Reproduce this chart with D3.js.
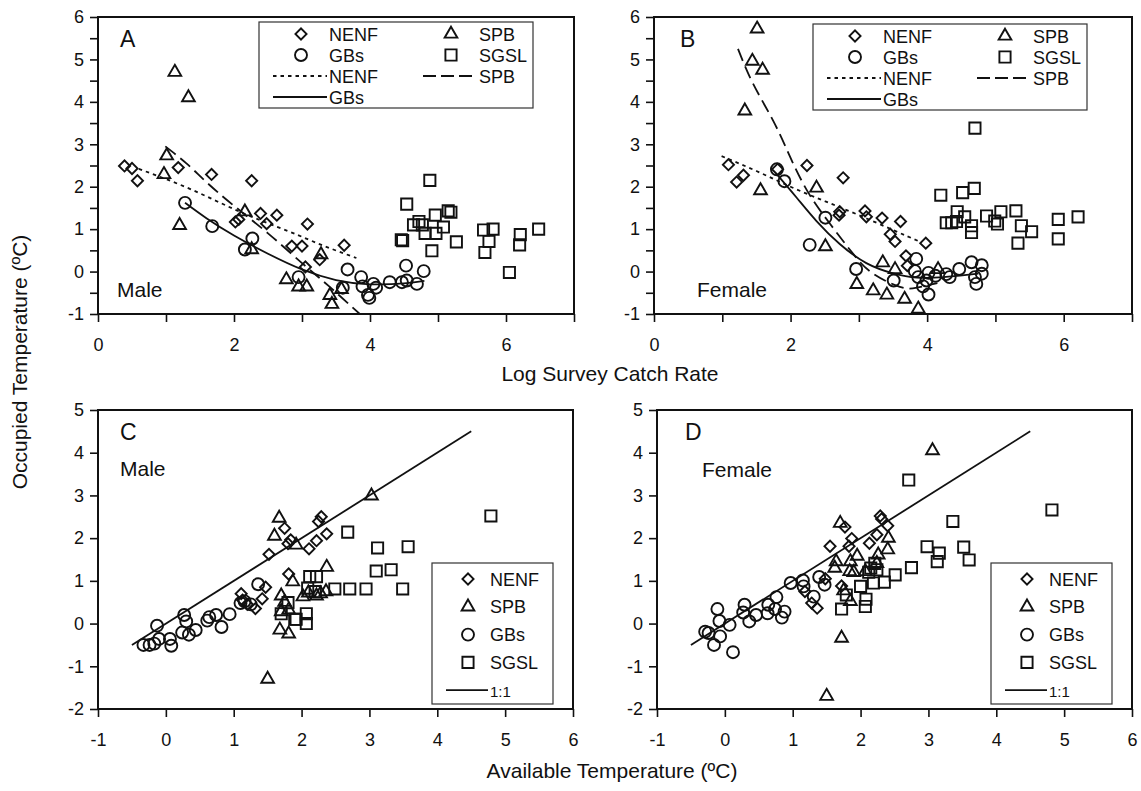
<!DOCTYPE html>
<html>
<head>
<meta charset="utf-8">
<script src="https://cdn.jsdelivr.net/npm/d3@7"></script>
<style>
  body { margin: 0; background: #fff; }
  text { font-family: "Liberation Sans", Arial, Helvetica, sans-serif; fill: #111; }
</style>
</head>
<body>
<div id="chart"></div>
<script>
// ---- data ----
// Panel A: male, occupied temp vs log survey catch rate
var aNENF = [[0.39,2.49],[0.50,2.43],[0.58,2.14],[1.18,2.45],[1.67,2.29],[2.26,2.14],[2.02,1.17],[2.07,1.23],
  [2.39,1.37],[2.48,1.13],[2.63,1.33],[3.08,1.12],[2.85,0.60],[3.00,0.60],[3.05,0.11],[3.26,0.28],[3.62,0.62]];
var aSPB = [[1.13,4.70],[1.33,4.10],[1.01,2.73],[0.97,2.29],[1.20,1.09],[2.16,1.41],[2.26,0.52],[2.77,-0.19],
  [2.95,-0.36],[3.07,-0.36],[3.28,0.40],[3.41,-0.56],[3.44,-0.77],[3.58,-0.42]];
var aGBs = [[1.28,1.62],[1.68,1.07],[2.27,0.78],[2.16,0.52],[2.95,-0.13],[3.60,-0.38],[3.67,0.05],[3.87,-0.13],
  [3.89,-0.35],[3.99,-0.62],[3.97,-0.55],[4.05,-0.29],[4.09,-0.38],[4.29,-0.25],[4.47,-0.25],[4.53,0.14],
  [4.54,-0.21],[4.69,-0.29],[4.79,0.01]];
var aSGSL = [[4.48,0.73],[4.46,0.75],[4.54,1.59],[4.64,1.10],[4.72,1.18],[4.77,1.10],[4.81,0.90],[4.88,2.15],
  [4.91,0.49],[4.96,1.33],[4.97,0.90],[5.08,1.05],[5.15,1.43],[5.19,1.40],[5.27,0.70],[5.67,0.98],[5.81,1.00],
  [5.75,0.71],[5.69,0.45],[6.05,-0.02],[6.21,0.87],[6.20,0.63],[6.48,1.00]];
var aFitNENF = [[0.6,2.42],[1.35,1.95],[2.1,1.40],[2.8,0.95],[3.3,0.62],[3.8,0.32]];
var aFitSPB = [[0.99,2.95],[1.3,2.55],[1.6,2.1],[2.0,1.55],[2.5,0.9],[3.0,0.2],[3.4,-0.35],[3.85,-1.0]];
var aFitGBs = [[1.28,1.62],[1.6,1.25],[2.0,0.85],[2.5,0.42],[3.0,0.05],[3.5,-0.2],[4.0,-0.3],[4.5,-0.28],[4.8,-0.22]];

// Panel B: female
var bNENF = [[1.09,2.52],[1.21,2.11],[1.31,2.27],[1.81,2.41],[2.24,2.50],[2.77,2.21],[2.71,1.33],[2.72,1.41],
  [3.09,1.43],[3.11,1.29],[3.34,1.26],[3.61,1.18],[3.46,0.88],[3.53,0.71],[3.98,0.67],[3.69,0.37],[3.71,0.14]];
var bSPB = [[1.51,5.72],[1.44,4.96],[1.59,4.75],[1.33,3.79],[1.56,1.91],[2.38,1.97],[2.51,0.59],[2.97,-0.30],
  [3.21,-0.45],[3.41,-0.55],[3.67,-0.65],[3.87,-0.88],[3.35,0.21],[3.53,0.05],[4.16,0.05]];
var bGBs = [[1.80,2.41],[1.91,2.13],[2.51,1.27],[2.28,0.63],[2.96,0.06],[3.51,-0.21],[3.84,0.30],[3.82,0.01],
  [3.87,-0.13],[3.94,-0.35],[4.02,-0.54],[4.02,-0.03],[3.99,-0.21],[4.28,-0.06],[4.33,-0.13],[4.47,0.06],
  [4.65,0.22],[4.80,0.15],[4.80,-0.05],[4.70,-0.13],[4.72,-0.29],[4.12,-0.10]];
var bSGSL = [[4.70,3.38],[4.20,1.80],[4.52,1.86],[4.69,1.96],[4.28,1.15],[4.36,1.15],[4.44,1.41],[4.43,1.18],
  [4.55,1.29],[4.65,1.08],[4.65,0.92],[4.87,1.31],[4.99,1.19],[5.08,1.41],[5.03,1.12],[5.30,1.43],[5.38,1.08],
  [5.53,0.94],[5.33,0.67],[5.92,1.23],[6.21,1.29],[5.92,0.77]];
var bFitNENF = [[0.99,2.72],[1.5,2.37],[2.0,2.0],[2.5,1.66],[3.0,1.33],[3.5,0.98],[3.9,0.7]];
var bFitSPB = [[1.23,5.25],[1.45,4.43],[1.75,3.54],[2.0,2.68],[2.26,1.86],[2.58,1.12],[2.92,0.41],[3.21,-0.05],
  [3.6,-0.36],[3.85,-0.38],[4.15,-0.27]];
var bFitGBs = [[1.80,2.29],[2.09,1.74],[2.38,1.19],[2.72,0.65],[3.11,0.2],[3.5,-0.04],[3.85,-0.14],[4.24,-0.13],
  [4.58,-0.08],[4.75,-0.05]];

// Panel C: male, occupied vs available temperature
var cNENF = [[1.52,1.62],[1.75,2.23],[1.84,1.96],[1.80,1.87],[2.11,1.75],[2.22,1.94],[2.37,2.10],[2.29,2.50],
  [2.25,2.39],[1.81,1.16],[1.42,0.58],[1.11,0.70],[1.32,0.35],[1.47,0.85],[1.13,0.55],[1.20,0.45]];
var cSPB = [[1.67,2.47],[1.60,2.05],[1.92,1.84],[2.37,1.32],[1.87,0.98],[1.70,0.65],[2.02,0.63],[2.22,0.65],
  [2.36,0.75],[1.70,0.28],[1.81,0.32],[1.68,-0.15],[1.81,-0.24],[3.03,2.99],[1.50,-1.30],[2.10,0.72],
  [2.28,0.70],[1.75,0.50]];
var cGBs = [[-0.13,-0.05],[-0.33,-0.50],[-0.24,-0.50],[-0.17,-0.47],[-0.10,-0.36],[0.06,-0.36],[0.08,-0.52],
  [0.27,0.20],[0.30,0.05],[0.24,-0.21],[0.34,-0.26],[0.44,-0.15],[0.61,0.07],[0.64,0.15],[0.74,0.20],
  [0.82,-0.08],[0.94,0.22],[1.36,0.92],[1.16,0.52],[1.25,0.45],[1.10,0.48]];
var cSGSL = [[4.79,2.52],[2.68,2.14],[3.12,1.77],[3.57,1.80],[3.10,1.23],[3.32,1.26],[3.49,0.81],[2.71,0.81],
  [2.95,0.81],[2.49,0.81],[2.12,1.10],[2.22,1.10],[2.09,0.83],[2.20,0.75],[1.70,0.23],[1.80,0.49],[2.07,0.23],
  [1.92,0.10],[2.07,0.00],[1.90,0.10]];

// Panel D: female
var dNENF = [[1.55,1.81],[1.77,2.26],[1.87,1.99],[1.83,1.81],[2.13,1.88],[2.24,2.08],[2.29,2.52],[2.31,2.45],
  [2.40,2.29],[1.72,0.88],[1.48,1.05],[1.28,0.48],[1.36,0.36],[1.18,0.75]];
var dSPB = [[3.06,4.05],[1.70,2.35],[1.64,1.45],[1.85,1.45],[1.95,1.58],[1.84,1.22],[2.41,2.00],[2.40,1.73],
  [2.26,1.61],[2.24,1.41],[2.07,1.22],[1.90,1.20],[1.75,0.77],[1.85,0.52],[1.72,-0.34],[1.50,-1.70],[1.62,1.30]];
var dGBs = [[-0.29,-0.19],[-0.24,-0.22],[-0.11,0.34],[-0.08,0.06],[-0.07,-0.30],[-0.16,-0.50],[0.07,-0.03],
  [0.12,-0.67],[0.29,0.44],[0.27,0.26],[0.36,0.05],[0.46,0.20],[0.63,0.24],[0.64,0.44],[0.76,0.62],
  [0.74,0.34],[0.84,0.14],[0.88,0.28],[0.97,0.95],[1.15,1.01],[1.16,0.87],[1.31,0.63],[1.39,1.09],[1.47,0.91]];
var dSGSL = [[2.71,3.36],[4.82,2.66],[3.36,2.39],[2.98,1.80],[3.52,1.79],[3.16,1.65],[3.13,1.45],[3.60,1.49],
  [2.75,1.31],[2.51,1.14],[2.35,0.97],[2.19,0.95],[2.00,0.87],[1.79,0.67],[2.08,0.57],[2.07,0.40],[1.72,0.34],
  [2.21,1.41],[2.24,1.26],[2.15,1.30],[2.12,1.20]];
var oneToOne = [[-0.5,-0.5],[4.5,4.5]];

// ticks
var catchTicks = [0,1,2,3,4,5,6,7];
var catchLabels = [0,2,4,6];
var occTicksTop = [-1,-0.5,0,0.5,1,1.5,2,2.5,3,3.5,4,4.5,5,5.5,6];
var availTicks = [-1,0,1,2,3,4,5,6];
var occTicksBottom = [-2,-1,0,1,2,3,4,5];

var fontFam = '"Liberation Sans", Arial, Helvetica, sans-serif';

var svg = d3.select("#chart").append("svg")
    .attr("width", 1141)
    .attr("height", 791);

// marker shapes
var shapes = {
  NENF: {sym: d3.symbolSquare, size: 62, rot: 45},
  SPB: {sym: d3.symbolTriangle, size: 70, rot: 0},
  GBs: {sym: d3.symbolCircle, size: 113, rot: 0},
  SGSL: {sym: d3.symbolSquare, size: 125, rot: 0}
};

function marker(g, key, px, py) {
  var s = shapes[key];
  return g.append("path")
    .attr("d", d3.symbol().type(s.sym).size(s.size)())
    .attr("transform", "translate(" + px + "," + py + ") rotate(" + s.rot + ")")
    .attr("fill", "none")
    .attr("stroke", "#111")
    .attr("stroke-width", 1.9);
}

var dashes = {NENF: "3.5,4", SPB: "13,6", GBs: null};

function drawPanel(p) {
  var x = d3.scaleLinear().domain(p.xd).range([p.left, p.right]);
  var y = d3.scaleLinear().domain(p.yd).range([p.bottom, p.top]);
  var g = svg.append("g");

  // x axis
  var xa = g.append("g")
      .attr("transform", "translate(0," + p.bottom + ")")
      .call(d3.axisBottom(x).tickValues(p.xTicks).tickSize(8).tickPadding(16)
        .tickFormat(function(d) { return p.xLabels.indexOf(d) >= 0 ? d : ""; }));
  // y axis
  var ya = g.append("g")
      .attr("transform", "translate(" + p.left + ",0)")
      .call(d3.axisLeft(y).tickValues(p.yTicks).tickSize(8).tickPadding(6)
        .tickFormat(function(d) { return Number.isInteger(d) ? d : ""; }));
  [xa, ya].forEach(function(a) {
    a.select(".domain").remove();
    a.selectAll("line").attr("stroke", "#111").attr("stroke-width", 1.6);
    a.selectAll("text").style("font-family", fontFam).style("font-size", "18px").attr("fill", "#111");
  });

  // frame
  g.append("rect")
    .attr("x", p.left).attr("y", p.top)
    .attr("width", p.right - p.left).attr("height", p.bottom - p.top)
    .attr("fill", "none").attr("stroke", "#111").attr("stroke-width", 2);

  var clipId = "clip" + p.name;
  svg.append("clipPath").attr("id", clipId).append("rect")
    .attr("x", p.left).attr("y", p.top)
    .attr("width", p.right - p.left).attr("height", p.bottom - p.top);

  var line = d3.line()
      .x(function(d) { return x(d[0]); })
      .y(function(d) { return y(d[1]); })
      .curve(d3.curveNatural);

  // fitted curves / reference line
  p.lines.forEach(function(l) {
    g.append("path").datum(l.data)
      .attr("clip-path", "url(#" + clipId + ")")
      .attr("d", line)
      .attr("fill", "none")
      .attr("stroke", "#111")
      .attr("stroke-width", 1.8)
      .attr("stroke-dasharray", l.dash);
  });

  // points
  p.series.forEach(function(s) {
    s.data.forEach(function(d) { marker(g, s.key, x(d[0]), y(d[1])); });
  });

  // panel letter and sex label
  g.append("text").attr("x", p.left + p.letterDx).attr("y", p.top + 30)
    .style("font-size", "23px").text(p.name);
  g.append("text").attr("x", p.left + p.sexDx).attr("y", p.sexY)
    .style("font-size", "21px").text(p.sex);

  // legend
  var L = p.legend;
  var lg = g.append("g");
  lg.append("rect").attr("x", L.x).attr("y", L.y).attr("width", L.w).attr("height", L.h)
    .attr("fill", "#fff").attr("stroke", "#333").attr("stroke-width", 1.2);
  L.items.forEach(function(it) {
    var cx = L.x + it.col * L.colW;
    var cy = L.y + L.row0 + it.row * L.rowH;
    if (it.type === "mark") {
      marker(lg, it.key, cx + L.symDx, cy);
    } else {
      lg.append("line")
        .attr("x1", cx + L.lineX0).attr("x2", cx + L.lineX1)
        .attr("y1", cy).attr("y2", cy)
        .attr("stroke", "#111").attr("stroke-width", 1.8)
        .attr("stroke-dasharray", it.dash);
    }
    lg.append("text").attr("x", cx + L.textDx).attr("y", cy + 6.5)
      .style("font-size", it.small ? "15px" : "18px").text(it.label);
  });
}

var legendTop = {
  w: 274, h: 86, colW: 150, row0: 12, rowH: 21,
  symDx: 42, textDx: 70, lineX0: 14, lineX1: 68,
  items: [
    {type: "mark", key: "NENF", label: "NENF", col: 0, row: 0},
    {type: "mark", key: "GBs", label: "GBs", col: 0, row: 1},
    {type: "line", dash: dashes.NENF, label: "NENF", col: 0, row: 2},
    {type: "line", dash: null, label: "GBs", col: 0, row: 3},
    {type: "mark", key: "SPB", label: "SPB", col: 1, row: 0},
    {type: "mark", key: "SGSL", label: "SGSL", col: 1, row: 1},
    {type: "line", dash: "13,5", label: "SPB", col: 1, row: 2}
  ]
};
var legendBottom = {
  w: 121, h: 141, colW: 0, row0: 16, rowH: 27.8,
  symDx: 36, textDx: 58, lineX0: 14, lineX1: 56,
  items: [
    {type: "mark", key: "NENF", label: "NENF", col: 0, row: 0},
    {type: "mark", key: "SPB", label: "SPB", col: 0, row: 1},
    {type: "mark", key: "GBs", label: "GBs", col: 0, row: 2},
    {type: "mark", key: "SGSL", label: "SGSL", col: 0, row: 3},
    {type: "line", dash: null, label: "1:1", col: 0, row: 4, small: true}
  ]
};

drawPanel({
  name: "A", sex: "Male", left: 98, right: 574, top: 17, bottom: 314,
  xd: [0, 7], yd: [-1, 6], xTicks: catchTicks, xLabels: catchLabels, yTicks: occTicksTop,
  letterDx: 22, sexDx: 19, sexY: 297,
  lines: [
    {data: aFitNENF, dash: dashes.NENF},
    {data: aFitSPB, dash: dashes.SPB},
    {data: aFitGBs, dash: null}
  ],
  series: [
    {key: "NENF", data: aNENF}, {key: "SPB", data: aSPB},
    {key: "GBs", data: aGBs}, {key: "SGSL", data: aSGSL}
  ],
  legend: Object.assign({x: 259, y: 22}, legendTop)
});

drawPanel({
  name: "B", sex: "Female", left: 654, right: 1132, top: 17, bottom: 314,
  xd: [0, 7], yd: [-1, 6], xTicks: catchTicks, xLabels: catchLabels, yTicks: occTicksTop,
  letterDx: 26, sexDx: 43, sexY: 297,
  lines: [
    {data: bFitNENF, dash: dashes.NENF},
    {data: bFitSPB, dash: dashes.SPB},
    {data: bFitGBs, dash: null}
  ],
  series: [
    {key: "NENF", data: bNENF}, {key: "SPB", data: bSPB},
    {key: "GBs", data: bGBs}, {key: "SGSL", data: bSGSL}
  ],
  legend: Object.assign({x: 813, y: 24}, legendTop)
});

drawPanel({
  name: "C", sex: "Male", left: 98, right: 573, top: 410, bottom: 709,
  xd: [-1, 6], yd: [-2, 5], xTicks: availTicks, xLabels: availTicks, yTicks: occTicksBottom,
  letterDx: 22, sexDx: 22, sexY: 476,
  lines: [{data: oneToOne, dash: null}],
  series: [
    {key: "NENF", data: cNENF}, {key: "SPB", data: cSPB},
    {key: "GBs", data: cGBs}, {key: "SGSL", data: cSGSL}
  ],
  legend: Object.assign({x: 432, y: 563}, legendBottom)
});

drawPanel({
  name: "D", sex: "Female", left: 657, right: 1132, top: 410, bottom: 709,
  xd: [-1, 6], yd: [-2, 5], xTicks: availTicks, xLabels: availTicks, yTicks: occTicksBottom,
  letterDx: 28, sexDx: 45, sexY: 477,
  lines: [{data: oneToOne, dash: null}],
  series: [
    {key: "NENF", data: dNENF}, {key: "SPB", data: dSPB},
    {key: "GBs", data: dGBs}, {key: "SGSL", data: dSGSL}
  ],
  legend: Object.assign({x: 991, y: 563}, legendBottom)
});

// axis titles
svg.append("text").attr("x", 610).attr("y", 381).attr("text-anchor", "middle")
  .style("font-size", "21px").text("Log Survey Catch Rate");
svg.append("text").attr("x", 612).attr("y", 778).attr("text-anchor", "middle")
  .style("font-size", "21px").text("Available Temperature  (ºC)");
svg.append("text").attr("transform", "translate(27,362) rotate(-90)").attr("text-anchor", "middle")
  .style("font-size", "21px").text("Occupied Temperature  (ºC)");
</script>
</body>
</html>
